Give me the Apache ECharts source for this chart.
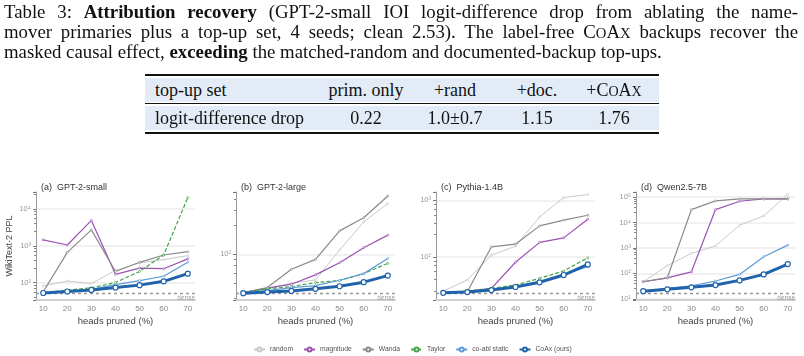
<!DOCTYPE html>
<html lang="en">
<head>
<meta charset="UTF-8">
<title>CoAx pruning</title>
<script src="https://cdn.jsdelivr.net/npm/echarts@6/dist/echarts.min.js"></script>
<style>
  body { margin:0; width:804px; height:356px; overflow:hidden; background:#fff; position:relative;
         font-family:'Liberation Serif', 'Times New Roman', serif; color:#111; }
  #main { position:absolute; left:0; top:0; width:804px; height:356px; }
  .ln { position:absolute; left:4px; width:794px; font-size:18.8px; line-height:20px; white-space:nowrap; z-index:2; }
  .j { text-align:justify; text-align-last:justify; white-space:normal; }
  .sm { font-size:0.78em; }
  .rule { position:absolute; left:145px; width:514px; background:#111; z-index:2; }
  .shade { position:absolute; left:145px; width:514px; height:24px; background:#e3ecf6; z-index:1; }
  .c { position:absolute; font-size:18px; line-height:24px; white-space:nowrap; z-index:2; transform:translateX(-50%); }
  .c.l { transform:none; }
</style>
</head>
<body>
<div id="main"></div>

<div class="ln j" style="top:2px">Table 3: <b>Attribution recovery</b> (GPT-2-small IOI logit-difference drop from ablating the name-</div>
<div class="ln j" style="top:22px">mover primaries plus a top-up set, 4 seeds; clean 2.53). The label-free C<span class="sm">O</span>A<span class="sm">X</span> backups recover the</div>
<div class="ln" style="top:42px">masked causal effect, <b>exceeding</b> the matched-random and documented-backup top-ups.</div>

<div class="rule" style="top:74px;height:2px"></div>
<div class="shade" style="top:78px"></div>
<div class="rule" style="top:103px;height:1px"></div>
<div class="shade" style="top:106px"></div>
<div class="rule" style="top:132px;height:2px"></div>

<div class="c l" style="left:155px;top:78px">top-up set</div>
<div class="c" style="left:366px;top:78px">prim. only</div>
<div class="c" style="left:455px;top:78px">+rand</div>
<div class="c" style="left:537px;top:78px">+doc.</div>
<div class="c" style="left:614px;top:78px">+C<span class="sm">O</span>A<span class="sm">X</span></div>
<div class="c l" style="left:155px;top:106px">logit-difference drop</div>
<div class="c" style="left:366px;top:106px">0.22</div>
<div class="c" style="left:455px;top:106px">1.0±0.7</div>
<div class="c" style="left:537px;top:106px">1.15</div>
<div class="c" style="left:614px;top:106px">1.76</div>

<script>
// heads pruned (%)
const pruned = [10, 20, 30, 40, 50, 60, 70];
const methods = ['random', 'magnitude', 'Wanda', 'Taylor', 'co-abl static', 'CoAx (ours)'];
const panelTitles = ['(a)  GPT-2-small', '(b)  GPT-2-large', '(c)  Pythia-1.4B', '(d)  Qwen2.5-7B'];

// WikiText-2 PPL
const gpt2sRandom    = [81, 110, 94, 213, 343, 420, 540];
const gpt2sMagnitude = [1450, 1050, 4900, 167, 246, 238, 440];
const gpt2sWanda     = [56, 660, 2700, 200, 355, 560, 690];
const gpt2sTaylor    = [53, 62, 72, 100, 200, 560, 20400];
const gpt2sCoabl     = [52, 58, 65, 88, 113, 148, 357];
const gpt2sCoax      = [52, 57, 63, 73, 85, 108, 174];
const gpt2sDense     = 50;

const gpt2lRandom    = [30.3, 34, 40.5, 45, 114, 276, 488];
const gpt2lMagnitude = [30.3, 34.7, 39.3, 52.6, 77, 123, 182];
const gpt2lWanda     = [30.3, 35.4, 62.7, 85.5, 208, 313, 617];
const gpt2lTaylor    = [30.3, 34, 36.5, 41.4, 44, 54.7, 75.5];
const gpt2lCoabl     = [30.1, 32.2, 35.4, 37.6, 44.5, 54.7, 88];
const gpt2lCoax      = [29.7, 30.7, 31.9, 34, 36.9, 41.9, 51.4];
const gpt2lDense     = 29.5;

const pythiaRandom    = [24.8, 38.8, 107, 154, 507, 1117, 1260];
const pythiaMagnitude = [23.2, 24.4, 27.7, 80, 180, 216, 463];
const pythiaWanda     = [23.2, 24.1, 150, 167, 352, 444, 543];
const pythiaTaylor    = [23.2, 24.8, 27.7, 31.7, 41.6, 56, 96];
const pythiaCoabl     = [23, 24.1, 26.2, 29.6, 36.2, 48.9, 66.6];
const pythiaCoax      = [23, 23.8, 25.8, 29.2, 35.4, 47.6, 73.4];
const pythiaDense     = 22.5;

const qwenRandom    = [47, 200, 608, 1200, 7800, 18000, 126000];
const qwenMagnitude = [47, 67, 115, 32000, 68000, 84000, 84000];
const qwenWanda     = [47, 67, 32000, 70000, 84000, 84000, 84000];
const qwenTaylor    = null; // not run for Qwen
const qwenCoabl     = [20.2, 25.8, 32.6, 50, 91, 450, 1290];
const qwenCoax      = [20, 23.6, 28.3, 34.8, 53, 91, 232];
const qwenDense     = 16.4;

const panels = [
  { data: [gpt2sRandom, gpt2sMagnitude, gpt2sWanda, gpt2sTaylor, gpt2sCoabl, gpt2sCoax], dense: gpt2sDense, min: 33.5, max: 29000 },
  { data: [gpt2lRandom, gpt2lMagnitude, gpt2lWanda, gpt2lTaylor, gpt2lCoabl, gpt2lCoax], dense: gpt2lDense, min: 24, max: 700 },
  { data: [pythiaRandom, pythiaMagnitude, pythiaWanda, pythiaTaylor, pythiaCoabl, pythiaCoax], dense: pythiaDense, min: 17.2, max: 1400 },
  { data: [qwenRandom, qwenMagnitude, qwenWanda, qwenTaylor, qwenCoabl, qwenCoax], dense: qwenDense, min: 9, max: 157000 }
];

const styles = [
  { color: '#c8c8c8', width: 1,   type: 'solid', size: 2 },
  { color: '#9b52b3', width: 1.2, type: 'solid', size: 2 },
  { color: '#8a8a8a', width: 1.2, type: 'solid', size: 2 },
  { color: '#45a349', width: 1.2, type: [4, 2], size: 2 },
  { color: '#5b9bd8', width: 1.2, type: 'solid', size: 2 },
  { color: '#1f63ad', width: 3,   type: 'solid', size: 5 }
];

const sup = { '0':'⁰','1':'¹','2':'²','3':'³','4':'⁴','5':'⁵','6':'⁶','7':'⁷','8':'⁸','9':'⁹' };
function powLabel(v) {
  const e = Math.log10(v);
  const r = Math.round(e);
  if (Math.abs(e - r) > 1e-6) return '';
  return '10' + String(r).split('').map(d => sup[d]).join('');
}

const chart = echarts.init(document.getElementById('main'));
const grid = [], xAxis = [], yAxis = [], title = [], series = [];

panels.forEach((p, i) => {
  const left = 36 + 200 * i;
  grid.push({ left: left, top: 192, width: 159, height: 108 });
  title.push({ text: panelTitles[i], left: left, top: 178,
    textStyle: { fontFamily: 'Liberation Sans', fontSize: 9, fontWeight: 'normal', color: '#333' } });
  xAxis.push({
    type: 'value', gridIndex: i, min: 7, max: 73,
    name: 'heads pruned (%)', nameLocation: 'middle', nameGap: 16,
    nameTextStyle: { fontFamily: 'Liberation Sans', fontSize: 9.5, color: '#444' },
    axisLine: { show: true, onZero: false, lineStyle: { color: '#d0d0d0', width: 2 } },
    axisTick: { show: false },
    splitLine: { show: false },
    axisLabel: { customValues: pruned, margin: 5, fontFamily: 'Liberation Sans', fontSize: 8, color: '#888' }
  });
  yAxis.push({
    type: 'log', gridIndex: i, min: p.min, max: p.max, position: 'left',
    name: i === 0 ? 'WikiText-2 PPL' : '', nameLocation: 'middle', nameGap: 22,
    nameTextStyle: { fontFamily: 'Liberation Sans', fontSize: 9, color: '#444' },
    axisLine: { show: true, onZero: false, lineStyle: { color: '#999', width: 1 } },
    axisTick: { show: true, length: 3, lineStyle: { color: '#777' } },
    minorTick: { show: true, splitNumber: 6, length: 2, lineStyle: { color: '#888' } },
    axisLabel: { formatter: powLabel, margin: 5, fontFamily: 'Liberation Sans', fontSize: 7.5, color: '#999' },
    splitLine: { show: true, showMinLine: false, showMaxLine: false, lineStyle: { color: '#ececec', width: 1.5 } }
  });
  p.data.forEach((vals, k) => {
    if (!vals) return;
    const s = styles[k];
    const item = {
      name: methods[k], type: 'line', xAxisIndex: i, yAxisIndex: i,
      data: pruned.map((x, j) => [x, vals[j]]),
      symbol: 'circle', symbolSize: s.size, showSymbol: true,
      lineStyle: { color: s.color, width: s.width, type: s.type },
      itemStyle: { color: '#fff', borderColor: s.color, borderWidth: k === 5 ? 1.2 : 0.7 },
      z: 2 + k, animation: false
    };
    if (k === 5) {
      item.markLine = {
        silent: true, symbol: 'none', animation: false,
        lineStyle: { color: '#999', width: 1.3, type: [3, 3] },
        label: { formatter: 'dense', position: 'insideEndBottom', distance: [0, 1],
                 fontFamily: 'Liberation Sans', fontSize: 6.5, color: '#999' },
        data: [{ yAxis: p.dense }]
      };
    }
    series.push(item);
  });
});

chart.setOption({
  animation: false,
  title: title,
  grid: grid,
  xAxis: xAxis,
  yAxis: yAxis,
  legend: {
    data: methods, left: 248, top: 341, itemWidth: 11, itemHeight: 5, itemGap: 10,
    textStyle: { fontFamily: 'Liberation Sans', fontSize: 6.8, color: '#555' }
  },
  series: series
});
</script>
</body>
</html>
